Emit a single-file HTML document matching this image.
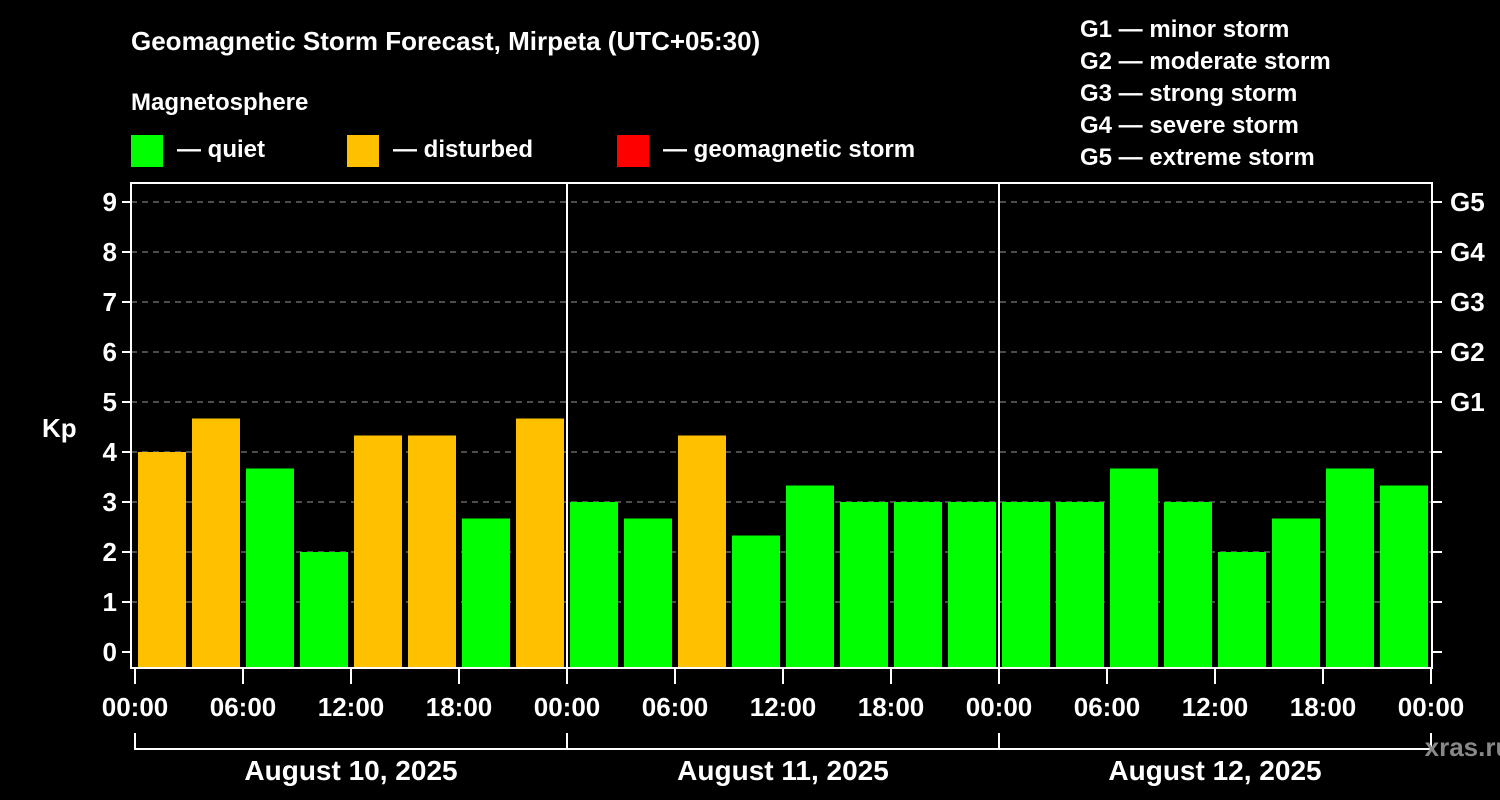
<!DOCTYPE html>
<html><head><meta charset="utf-8"><style>
html,body{margin:0;padding:0;background:#000;}
svg{display:block;font-family:"Liberation Sans",Arial,sans-serif;font-weight:bold;}
</style></head><body>
<svg width="1500" height="800" viewBox="0 0 1500 800">
<rect width="1500" height="800" fill="#000"/>
<text x="131" y="50" fill="#fff" font-size="26">Geomagnetic Storm Forecast, Mirpeta (UTC+05:30)</text>
<text x="131" y="110" fill="#fff" font-size="24">Magnetosphere</text>
<g><rect x="131" y="135" width="32" height="32" fill="#00ff00"/><text x="177" y="157" fill="#fff" font-size="24">— quiet</text></g>
<g><rect x="347" y="135" width="32" height="32" fill="#ffc000"/><text x="393" y="157" fill="#fff" font-size="24">— disturbed</text></g>
<g><rect x="617" y="135" width="32" height="32" fill="#ff0000"/><text x="663" y="157" fill="#fff" font-size="24">— geomagnetic storm</text></g>
<g fill="#fff" font-size="24">
<text x="1080" y="37">G1 — minor storm</text>
<text x="1080" y="69">G2 — moderate storm</text>
<text x="1080" y="101">G3 — strong storm</text>
<text x="1080" y="133">G4 — severe storm</text>
<text x="1080" y="165">G5 — extreme storm</text>
</g>
<g id="plot"></g>
<text x="42" y="437" fill="#fff" font-size="26">Kp</text>
<text x="1468" y="756" fill="#888" font-size="26" text-anchor="middle">xras.ru</text>
</svg>
<script>
const kpValues=[4,4.67,3.67,2,4.33,4.33,2.67,4.67,3,2.67,4.33,2.33,3.33,3,3,3,3,3,3.67,3,2,2.67,3.67,3.33,3];
const yTicks=[0,1,2,3,4,5,6,7,8,9];
const gLabels=["G1","G2","G3","G4","G5"];
const gLevels=[5,6,7,8,9];
const timeLabels=["00:00","06:00","12:00","18:00","00:00","06:00","12:00","18:00","00:00","06:00","12:00","18:00","00:00"];
const dayLabels=["August 10, 2025","August 11, 2025","August 12, 2025"];
const NS="http://www.w3.org/2000/svg";
const L=131,R=1432,T=183,B=668,X0=135,PXH=18;
const y=v=>652-v*50;
const x=h=>X0+h*PXH;
const g=document.getElementById('plot');
function mk(t,a,p){const e=document.createElementNS(NS,t);for(const k in a)e.setAttribute(k,a[k]);(p||g).appendChild(e);return e;}
const defs=mk('defs',{});const cp=mk('clipPath',{id:'c'},defs);mk('rect',{x:L+5,y:T,width:R-L-4-4,height:B-T},cp);
yTicks.forEach(v=>{if(v>0){const l=mk('line',{x1:L,x2:R,y1:y(v),y2:y(v),stroke:'#999','stroke-width':1,'stroke-dasharray':'6,5'});

}
const t=mk('line',{x1:L-9,x2:L,y1:y(v),y2:y(v),stroke:'#fff','stroke-width':2});


const r=mk('line',{x1:R,x2:R+10,y1:y(v),y2:y(v),stroke:'#fff','stroke-width':2});


const tx=mk('text',{x:L-14,y:y(v)+9,fill:'#fff','font-size':26,'text-anchor':'end'});tx.textContent=v;

});
gLabels.forEach((s,i)=>{const tx=mk('text',{x:1450,y:y(gLevels[i])+9,fill:'#fff','font-size':26});tx.textContent=s;

});
const bg=mk('g',{'clip-path':'url(#c)'});
kpValues.forEach((v,i)=>{const c=x(1.5+3*i);const b=mk('rect',{x:c-24,y:y(v),width:48,height:B-y(v),fill:v>=4?'#ffc000':'#00ff00'},bg);

});
[24,48].forEach(h=>{const l=mk('line',{x1:x(h),x2:x(h),y1:T,y2:B,stroke:'#fff','stroke-width':2});

});
const f=mk('rect',{x:L,y:T,width:R-L,height:B-T,fill:'none',stroke:'#fff','stroke-width':2});


timeLabels.forEach((s,i)=>{const xx=x(i*6);const t=mk('line',{x1:xx,x2:xx,y1:B,y2:B+16,stroke:'#fff','stroke-width':2});


const tx=mk('text',{x:xx,y:716,fill:'#fff','font-size':26,'text-anchor':'middle'});tx.textContent=s;

});
const br=mk('path',{d:`M${x(0)} 733V749H${x(72)}V733M${x(24)} 733V749M${x(48)} 733V749`,fill:'none',stroke:'#fff','stroke-width':2});


dayLabels.forEach((s,i)=>{const tx=mk('text',{x:x(12+24*i),y:780,fill:'#fff','font-size':28,'text-anchor':'middle'});tx.textContent=s;

});
</script>
</body></html>
